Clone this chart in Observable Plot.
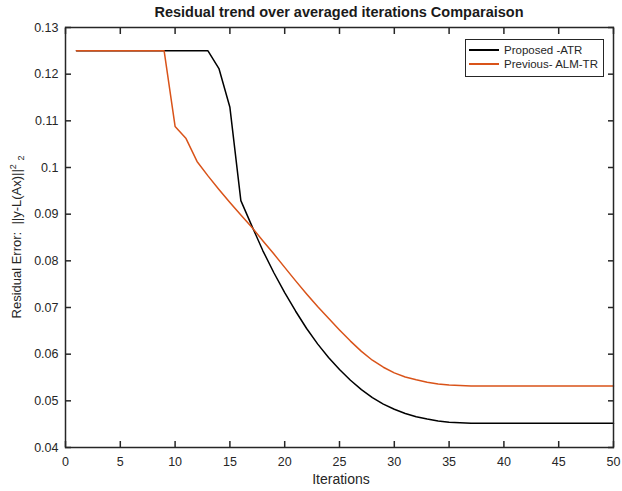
<!DOCTYPE html>
<html>
<head>
<meta charset="utf-8">
<script src="https://cdn.jsdelivr.net/npm/d3@7"></script>
<script src="https://cdn.jsdelivr.net/npm/@observablehq/plot@0.6"></script>
<style>
  html, body { margin: 0; padding: 0; background: #fff; }
  #wrap { position: relative; width: 622px; height: 491px; font-family: "Liberation Sans", Arial, sans-serif; }
  #title { position: absolute; left: 65px; width: 548px; top: 4px; text-align: center; font-weight: bold; font-size: 14.5px; color: #1a1a1a; }
  #ylab { position: absolute; left: 17px; top: 237px; transform: translate(-50%, -50%) rotate(-90deg); white-space: nowrap; font-size: 13px; color: #262626; }
  #ylab sup, #ylab sub { font-size: 9px; }
  #xlab { position: absolute; left: 67px; width: 548px; top: 471px; text-align: center; font-size: 14px; color: #262626; }
  #legend { position: absolute; left: 465px; top: 39px; width: 137px; height: 36px; border: 1px solid #262626; background: #fff; font-size: 11.5px; color: #262626; }
  .row { position: absolute; left: 3px; display: flex; align-items: center; }
  .sw { width: 30px; height: 0; border-top: 2px solid; margin-right: 5px; }
</style>
</head>
<body>
<div id="wrap">
  <div id="chart"></div>
  <div id="title">Residual trend over averaged iterations Comparaison</div>
  <div id="ylab">Residual Error:&nbsp; ||y-L(Ax)||<sup>2</sup>&nbsp;<sub>2</sub></div>
  <div id="xlab">Iterations</div>
  <div id="legend"></div>
</div>
<script>
const iterations = d3.range(1, 51);
const proposedATR = [
  0.125, 0.125, 0.125, 0.125, 0.125, 0.125, 0.125, 0.125, 0.125, 0.125,
  0.125, 0.125, 0.125, 0.1212, 0.1129, 0.0929, 0.0875, 0.0822, 0.0775, 0.0732,
  0.0692, 0.0655, 0.0622, 0.0593, 0.0567, 0.0544, 0.0524, 0.0507, 0.0493, 0.0482,
  0.0473, 0.0466, 0.0461, 0.0457, 0.0454, 0.0453, 0.0452, 0.0452, 0.0452, 0.0452,
  0.0452, 0.0452, 0.0452, 0.0452, 0.0452, 0.0452, 0.0452, 0.0452, 0.0452, 0.0452
];
const previousALMTR = [
  0.125, 0.125, 0.125, 0.125, 0.125, 0.125, 0.125, 0.125, 0.125, 0.1088,
  0.1062, 0.1013, 0.0982, 0.0953, 0.0925, 0.0898, 0.0872, 0.0843, 0.0815, 0.0786,
  0.0757, 0.0729, 0.0702, 0.0677, 0.0652, 0.0628, 0.0606, 0.0587, 0.0572, 0.0560,
  0.0551, 0.0545, 0.0540, 0.0536, 0.0534, 0.0533, 0.0532, 0.0532, 0.0532, 0.0532,
  0.0532, 0.0532, 0.0532, 0.0532, 0.0532, 0.0532, 0.0532, 0.0532, 0.0532, 0.0532
];
const seriesNames = ["Proposed -ATR", "Previous- ALM-TR"];
const seriesColors = ["#000000", "#D95319"];
const xTicks = [0, 5, 10, 15, 20, 25, 30, 35, 40, 45, 50];
const yTicks = [0.04, 0.05, 0.06, 0.07, 0.08, 0.09, 0.1, 0.11, 0.12, 0.13];

const data = [];
iterations.forEach((it, i) => {
  data.push({iter: it, value: proposedATR[i], series: seriesNames[0]});
  data.push({iter: it, value: previousALMTR[i], series: seriesNames[1]});
});

const fmtY = d => d === 0.1 ? "0.1" : d3.format(".2f")(d);
const axisColor = "#262626";

const chart = Plot.plot({
  width: 622,
  height: 491,
  marginLeft: 65,
  marginRight: 9,
  marginTop: 27,
  marginBottom: 44,
  style: {fontFamily: "'Liberation Sans', Arial, sans-serif", fontSize: "12.5px", color: axisColor, background: "#fff"},
  x: {domain: [0, 50]},
  y: {domain: [0.04, 0.13]},
  color: {domain: seriesNames, range: seriesColors},
  marks: [
    Plot.axisX(xTicks, {anchor: "bottom", tickSize: 0, tickPadding: 10, label: null, fill: axisColor}),
    Plot.axisX(xTicks, {anchor: "bottom", tickSize: -6, text: null, label: null, stroke: axisColor, strokeWidth: 1.5}),
    Plot.axisX(xTicks, {anchor: "top", tickSize: -6, text: null, label: null, stroke: axisColor, strokeWidth: 1.5}),
    Plot.axisY(yTicks, {anchor: "left", tickSize: 0, tickPadding: 7, tickFormat: fmtY, label: null, fill: axisColor}),
    Plot.axisY(yTicks, {anchor: "left", tickSize: -6, text: null, label: null, stroke: axisColor, strokeWidth: 1.5}),
    Plot.axisY(yTicks, {anchor: "right", tickSize: -6, text: null, label: null, stroke: axisColor, strokeWidth: 1.5}),
    Plot.line(data, {x: "iter", y: "value", z: "series", stroke: "series", strokeWidth: 1.5, curve: "linear"}),
    Plot.frame({stroke: axisColor, strokeWidth: 1.5})
  ]
});
document.getElementById("chart").appendChild(chart);

const legend = document.getElementById("legend");
seriesNames.forEach((name, i) => {
  const row = document.createElement("div");
  row.className = "row";
  row.style.top = (4 + i * 14) + "px";
  const sw = document.createElement("span");
  sw.className = "sw";
  sw.style.borderColor = seriesColors[i];
  const t = document.createElement("span");
  t.textContent = name;
  row.appendChild(sw);
  row.appendChild(t);
  legend.appendChild(row);
});
</script>
</body>
</html>
